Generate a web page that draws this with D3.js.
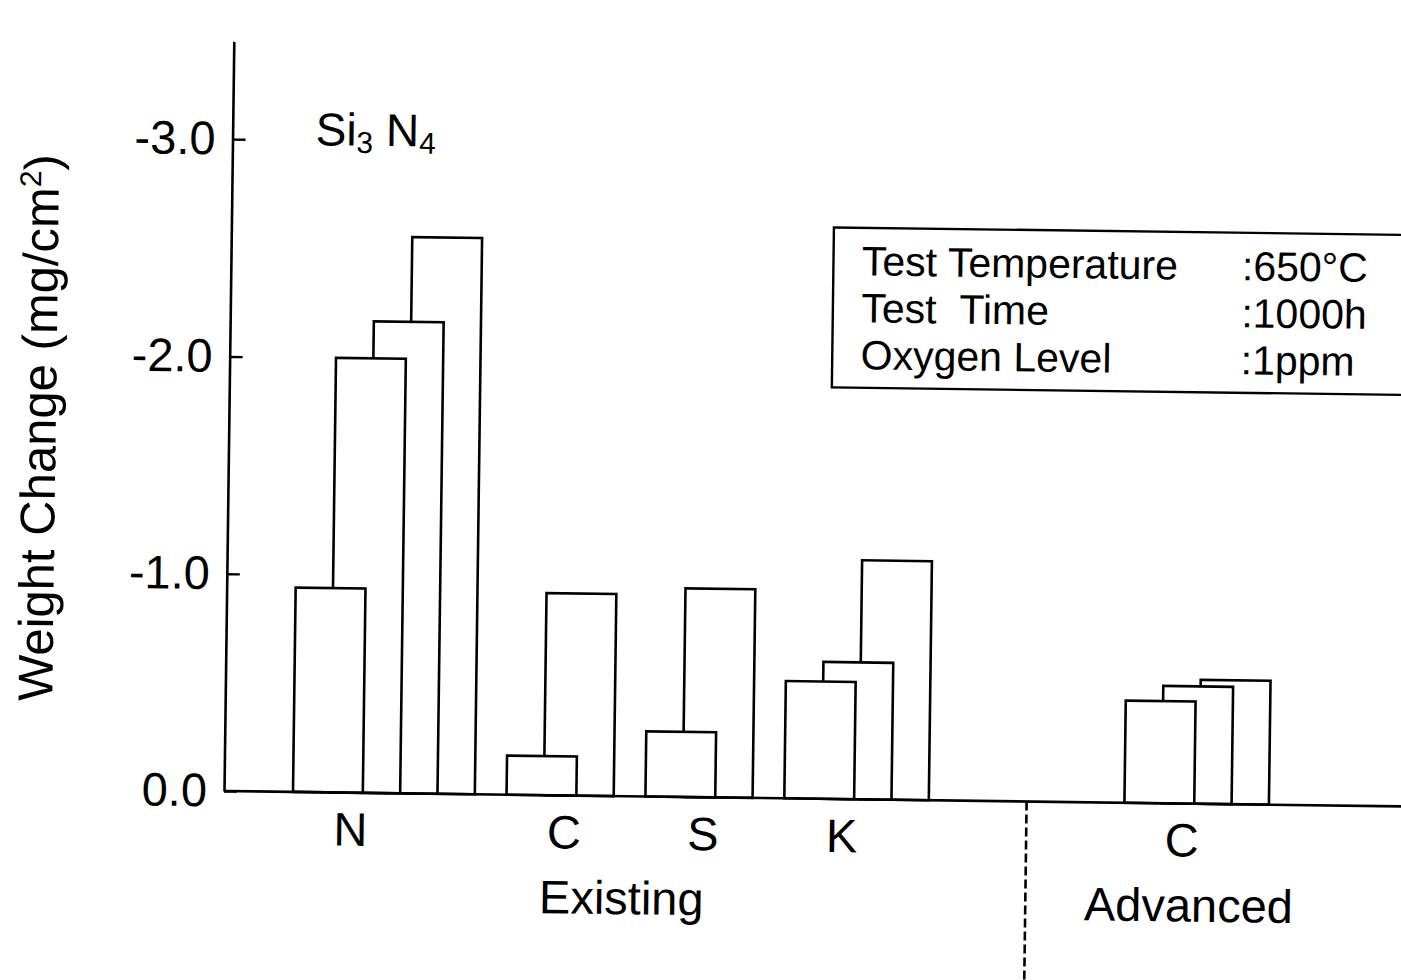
<!DOCTYPE html>
<html>
<head>
<meta charset="utf-8">
<script src="https://cdn.jsdelivr.net/npm/d3@7"></script>
<style>
  body { margin: 0; background: #fff; }
  svg { display: block; }
</style>
</head>
<body>
<div id="canvas"></div>
<script>
// DATA
const materials = ["N", "C", "S", "K", "C"];
const materialSection = ["Existing", "Existing", "Existing", "Existing", "Advanced"];
const weightN = [-0.94, -2.00, -2.17, -2.56];
const weightC = [-0.18, -0.93];
const weightS = [-0.30, -0.96];
const weightK = [-0.54, -0.63, -1.10];
const weightCAdv = [-0.47, -0.54, -0.57];
const yTicks = [0, -1, -2, -3];
const yTickLabels = ["0.0", "-1.0", "-2.0", "-3.0"];
const conditionNames = ["Test Temperature", "Test \u00a0Time", "Oxygen Level"];
const conditionValues = [":650\u00b0C", ":1000h", ":1ppm"];

function drawGraph() {
  // DIMENSIONS
  const width = 1401;
  const height = 980;
  const font = "'Liberation Sans', Arial, Helvetica, sans-serif";
  const origin = { x: 224, y: 791 };
  const tilt = 0.75; // the scanned figure sits slightly rotated

  // CANVAS
  const canvas = d3
    .select("#canvas")
    .append("svg")
    .attr("width", width)
    .attr("height", height)
    .style("background", "white");

  const plot = canvas
    .append("g")
    .attr("transform", `rotate(${tilt}, ${origin.x}, ${origin.y})`)
    .attr("font-family", font)
    .attr("fill", "black");

  // LAYOUT (in bar steps)
  const barWidth = 1.87;
  const groupGap = 0.85;
  const sectionGap = 5.24;
  const series = [weightN, weightC, weightS, weightK, weightCAdv];

  const starts = [];
  const ends = [];
  let pos = 0;
  series.forEach((vals, i) => {
    if (i > 0) pos += materialSection[i] !== materialSection[i - 1] ? sectionGap : groupGap;
    starts.push(pos);
    pos += vals.length - 1 + barWidth;
    ends.push(pos);
  });

  // SCALES
  const xScale = d3.scaleLinear().domain([0, pos]).range([293, 1269]);
  const yScale = d3.scaleLinear().domain([0, -3.45]).range([origin.y, 41.3]);

  // BARS (first bar of a group sits in front)
  series.forEach((vals, gi) => {
    const bars = vals.map((v, i) => ({ v: v, i: i, start: starts[gi] })).reverse();
    plot
      .append("g")
      .selectAll("rect")
      .data(bars)
      .join("rect")
      .attr("x", (d) => xScale(d.start + d.i))
      .attr("y", (d) => yScale(d.v))
      .attr("width", xScale(barWidth) - xScale(0))
      .attr("height", (d) => yScale(0) - yScale(d.v))
      .attr("fill", "white")
      .attr("stroke", "black")
      .attr("stroke-width", 2.6);
  });

  // BASELINE
  plot
    .append("line")
    .attr("x1", origin.x)
    .attr("x2", width + 80)
    .attr("y1", yScale(0))
    .attr("y2", yScale(0))
    .attr("stroke", "black")
    .attr("stroke-width", 2.6);

  // Y AXIS
  const yAx = d3
    .axisLeft(yScale)
    .tickValues(yTicks)
    .tickFormat((d, i) => yTickLabels[i])
    .tickSize(-13)
    .tickSizeOuter(0)
    .tickPadding(17);

  plot
    .append("g")
    .attr("transform", `translate(${origin.x}, 0)`)
    .call(yAx)
    .call((g) => {
      g.attr("font-family", font).attr("font-size", 47);
      g.select(".domain").attr("stroke-width", 2.6);
      g.selectAll(".tick line").attr("stroke-width", 2.4);
      g.selectAll(".tick text").attr("fill", "black");
    });

  // DIVIDER between sections
  const divX = (xScale(ends[3]) + xScale(starts[4])) / 2;
  plot
    .append("line")
    .attr("x1", divX)
    .attr("x2", divX)
    .attr("y1", yScale(0))
    .attr("y2", height + 20)
    .attr("stroke", "black")
    .attr("stroke-width", 2.6)
    .attr("stroke-dasharray", "9,4");

  // CATEGORY LABELS
  const labelUnits = starts.map((s) => s + 1.55);
  plot
    .append("g")
    .selectAll("text")
    .data(materials)
    .join("text")
    .attr("x", (d, i) => xScale(labelUnits[i]))
    .attr("y", 844)
    .attr("text-anchor", "middle")
    .attr("font-size", 47)
    .text((d) => d);

  const sections = Array.from(new Set(materialSection));
  plot
    .append("g")
    .selectAll("text")
    .data(sections)
    .join("text")
    .attr("x", (s) => xScale(d3.mean(labelUnits.filter((u, i) => materialSection[i] === s)) + 0.2))
    .attr("y", 909)
    .attr("text-anchor", "middle")
    .attr("font-size", 47)
    .text((s) => s);

  // MATERIAL TITLE
  const title = plot
    .append("text")
    .attr("x", 307)
    .attr("y", 144)
    .attr("font-size", 46);
  title.append("tspan").text("Si");
  title.append("tspan").attr("font-size", 30).attr("dy", 7).text("3");
  title.append("tspan").attr("dy", -7).text(" N");
  title.append("tspan").attr("font-size", 30).attr("dy", 7).text("4");

  // CONDITIONS BOX
  plot
    .append("rect")
    .attr("x", 826.5)
    .attr("y", 219.5)
    .attr("width", 700)
    .attr("height", 160)
    .attr("fill", "white")
    .attr("stroke", "black")
    .attr("stroke-width", 2.4);

  const rows = plot
    .append("g")
    .attr("font-size", 41)
    .selectAll("g")
    .data(conditionNames)
    .join("g")
    .attr("transform", (d, i) => `translate(0, ${267 + i * 47})`);

  rows.append("text").attr("x", 855).text((d) => d);
  rows.append("text").attr("x", 1235).text((d, i) => conditionValues[i]);

  // Y LABEL
  const yLabel = plot
    .append("text")
    .attr("transform", "translate(51, 430) rotate(-90)")
    .attr("text-anchor", "middle")
    .attr("font-size", 49);
  yLabel.append("tspan").text("Weight Change (mg/cm");
  yLabel.append("tspan").attr("font-size", 30).attr("dy", -18).text("2");
  yLabel.append("tspan").attr("dy", 18).text(")");
}

drawGraph();
</script>
</body>
</html>
